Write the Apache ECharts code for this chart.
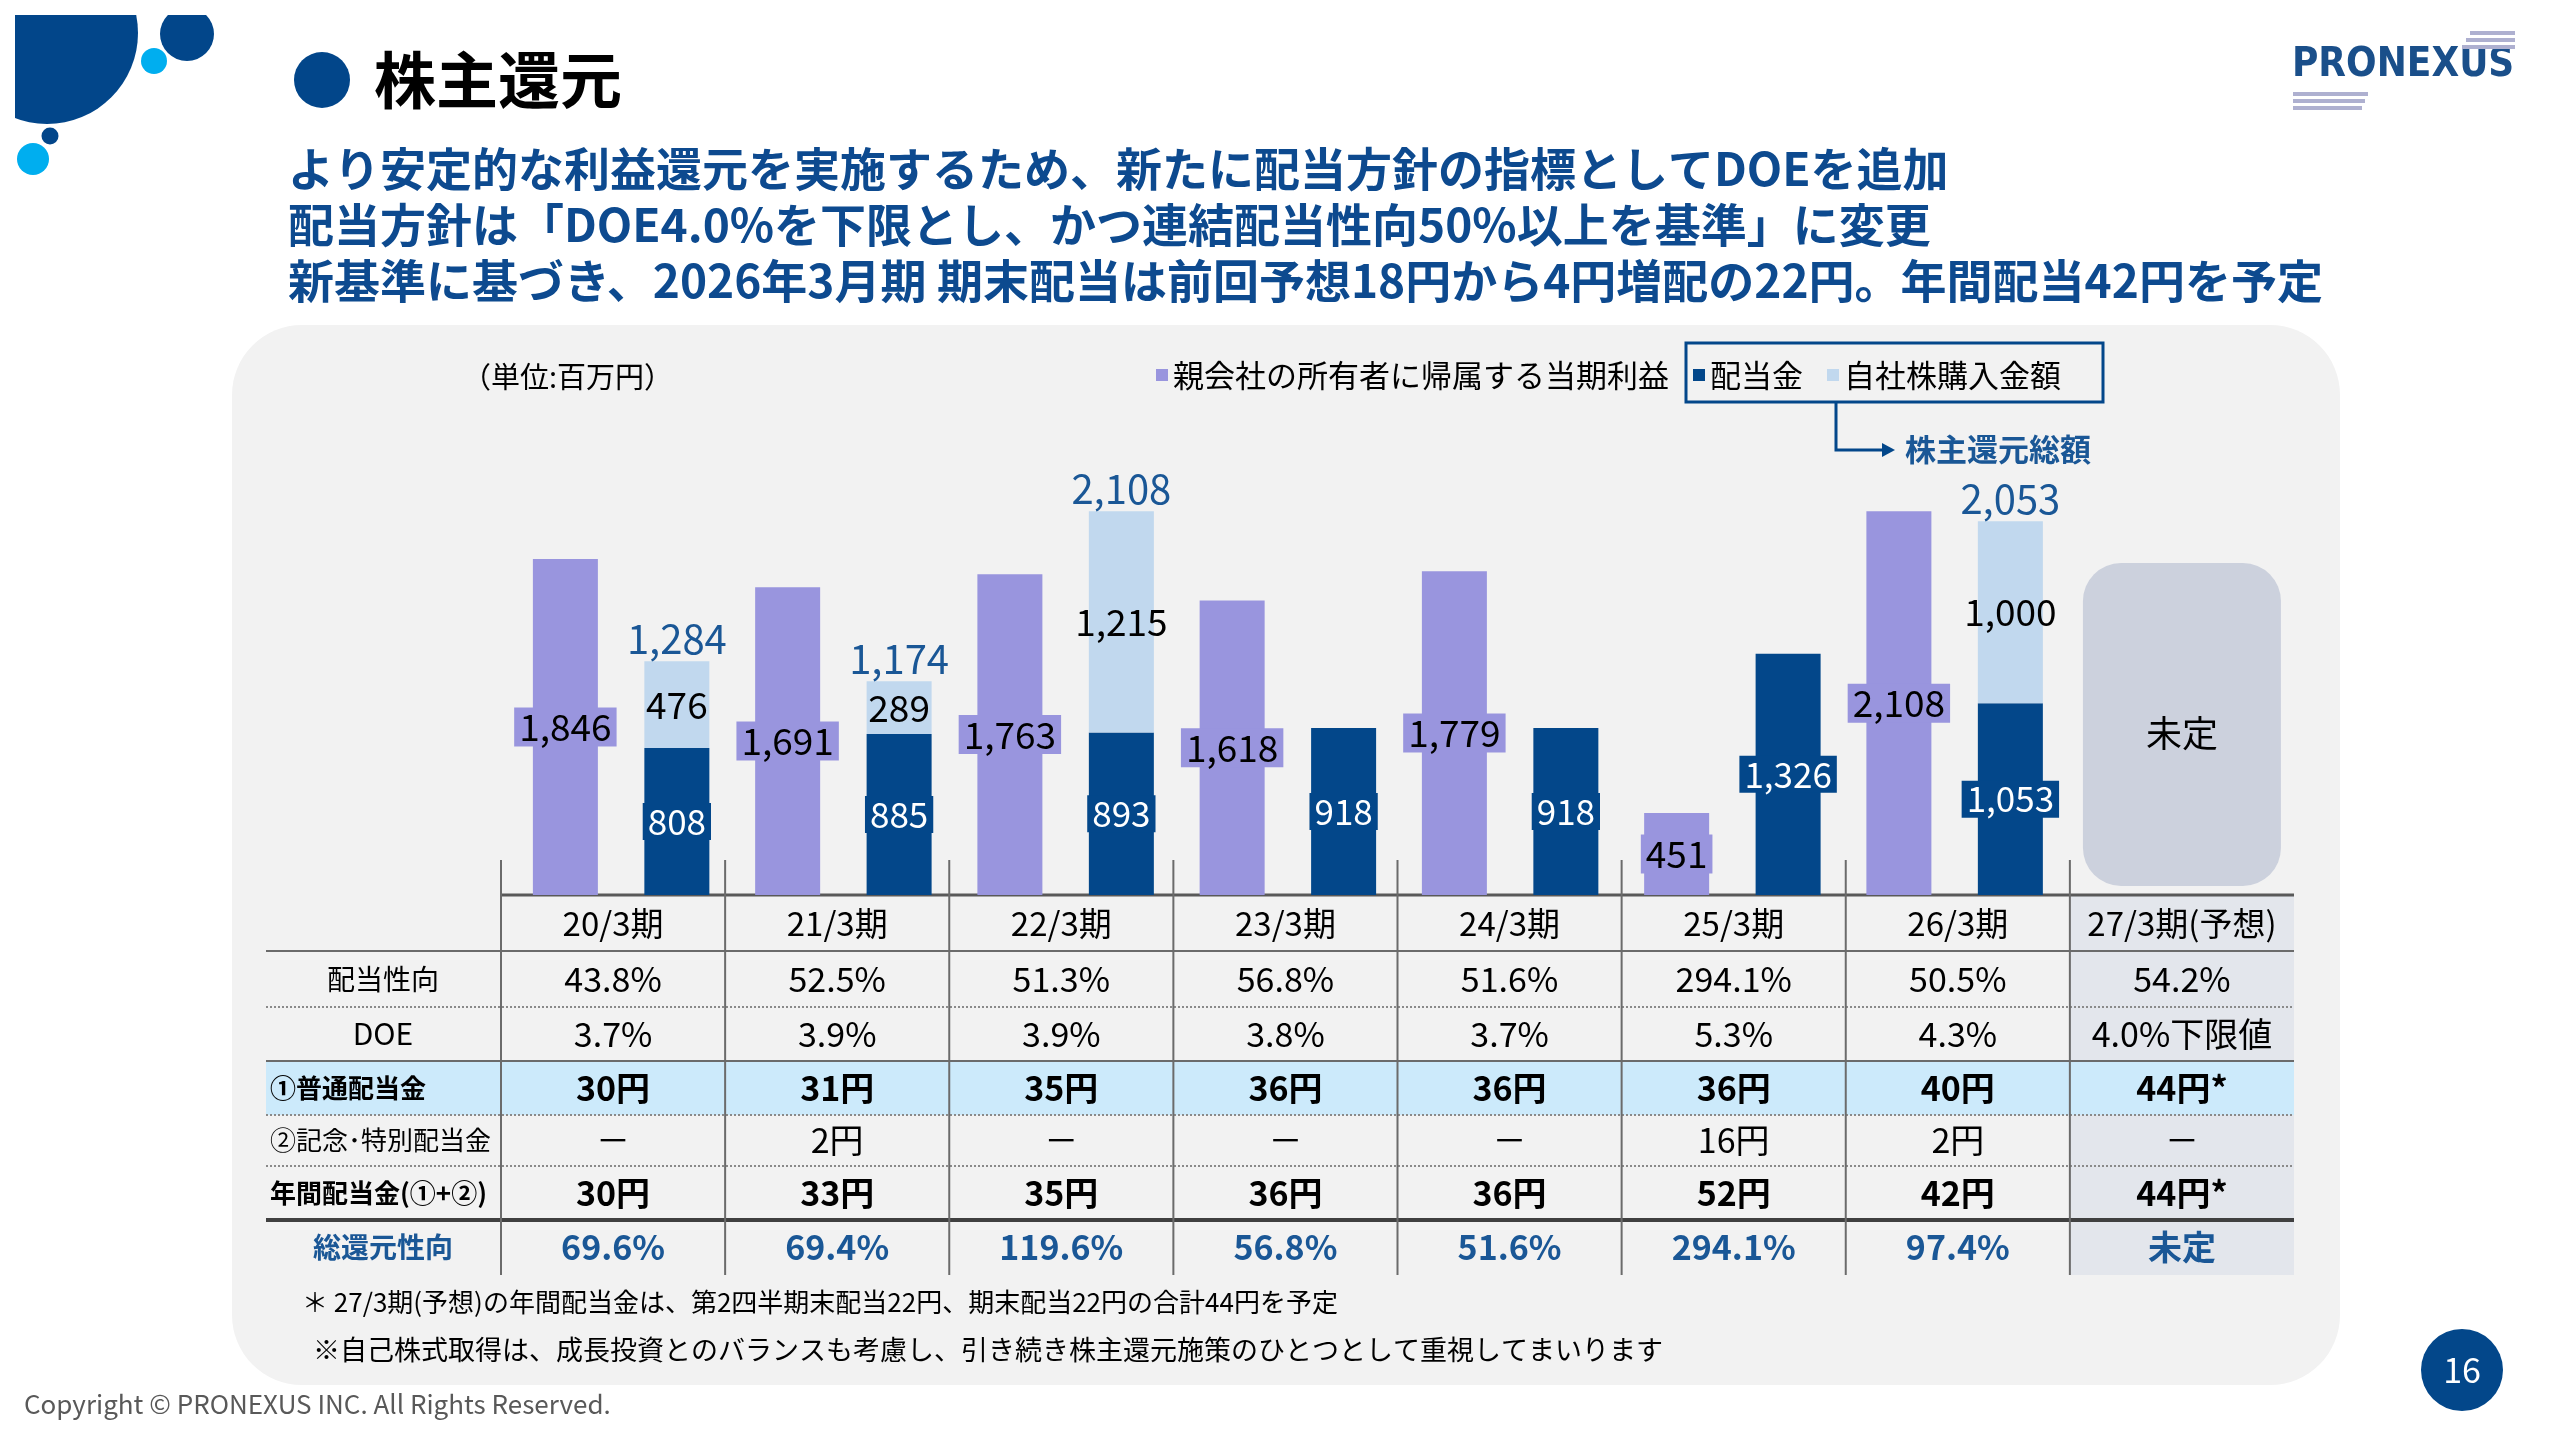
<!DOCTYPE html>
<html>
<head>
<meta charset="utf-8">
<script src="https://cdn.jsdelivr.net/npm/echarts@6/dist/echarts.min.js"></script>
<style>
  html, body { margin: 0; padding: 0; background: #fff; }
  #main { width: 2560px; height: 1439px; }
</style>
</head>
<body>
<div id="main"></div>
<script>
// 期ごとのデータ（単位：百万円）
const categories = ['20/3期', '21/3期', '22/3期', '23/3期', '24/3期', '25/3期', '26/3期', '27/3期(予想)']
const netIncome = [1846, 1691, 1763, 1618, 1779, 451, 2108, null]
const dividends = [808, 885, 893, 918, 918, 1326, 1053, null]
const buybacks = [476, 289, 1215, null, null, null, 1000, null]

// 表の行
const payoutRatio = ['43.8%', '52.5%', '51.3%', '56.8%', '51.6%', '294.1%', '50.5%', '54.2%']
const doe = ['3.7%', '3.9%', '3.9%', '3.8%', '3.7%', '5.3%', '4.3%', '4.0%下限値']
const ordinaryDiv = ['30円', '31円', '35円', '36円', '36円', '36円', '40円', '44円*']
const specialDiv = ['－', '2円', '－', '－', '－', '16円', '2円', '－']
const annualDiv = ['30円', '33円', '35円', '36円', '36円', '52円', '42円', '44円*']
const totalReturnRatio = ['69.6%', '69.4%', '119.6%', '56.8%', '51.6%', '294.1%', '97.4%', '未定']

const FONT = '"Noto Sans CJK JP", "Noto Sans", sans-serif'
const PURPLE = '#9995de'
const NAVY = '#03478a'
const LIGHT = '#c1d8ee'
const BLUE_TXT = '#1a5796'

const fmt = v => Number(v).toLocaleString('en-US')

const chart = echarts.init(document.getElementById('main'))

chart.setOption({
    animation: false,
    textStyle: { fontFamily: FONT },
    legend: {
        data: ['親会社の所有者に帰属する当期利益', '配当金', '自社株購入金額'],
        left: 1156, top: 355,
        icon: 'rect', itemWidth: 12, itemHeight: 12, itemGap: 24, padding: 0,
        selectedMode: false,
        textStyle: { fontSize: 31, color: '#000', fontFamily: FONT, lineHeight: 40 }
    },
    grid: [
        { left: 510, right: 272, top: 440, bottom: 544 },
        { left: 501, right: 266, top: 895, bottom: 164 }
    ],
    xAxis: [
        { type: 'category', data: categories, gridIndex: 0, show: false },
        { type: 'category', data: categories, gridIndex: 1, show: false }
    ],
    yAxis: [
        { type: 'value', min: 0, max: 2500, gridIndex: 0, show: false },
        { type: 'value', gridIndex: 1, show: false }
    ],
    series: [
        {
            name: '親会社の所有者に帰属する当期利益', type: 'bar', data: netIncome,
            barWidth: 65, barGap: '71.5%',
            itemStyle: { color: PURPLE },
            label: {
                show: true, position: 'inside', color: '#000', fontSize: 37,
                backgroundColor: PURPLE, padding: [1, 5],
                formatter: p => fmt(p.value)
            }
        },
        {
            name: '配当金', type: 'bar', stack: 'ret', data: dividends, barWidth: 65,
            itemStyle: { color: NAVY },
            label: {
                show: true, position: 'inside', color: '#fff', fontSize: 35,
                backgroundColor: NAVY, padding: [1, 5],
                formatter: p => fmt(p.value)
            }
        },
        {
            name: '自社株購入金額', type: 'bar', stack: 'ret', data: buybacks, barWidth: 65,
            itemStyle: { color: LIGHT },
            label: {
                show: true, position: 'inside', color: '#000', fontSize: 37,
                formatter: p => fmt(p.value)
            }
        },
        {
            // 株主還元総額ラベル用（高さゼロ）
            name: '総額', type: 'bar', stack: 'ret', barWidth: 65,
            data: buybacks.map(b => (b ? 0 : '-')),
            itemStyle: { color: 'transparent' },
            label: {
                show: true, position: 'top', distance: 3, color: BLUE_TXT, fontSize: 40,
                formatter: p => fmt(dividends[p.dataIndex] + buybacks[p.dataIndex])
            }
        }
    ]
})

// 表・装飾
const cx = categories.map((c, i) => chart.convertToPixel({ xAxisIndex: 1 }, i))
const half = (cx[1] - cx[0]) / 2
const tableL = 266
const tableR = cx[cx.length - 1] + half
const rowY = [895, 951, 1007, 1061, 1115, 1166, 1220, 1275]

const g = []
const txt = (x, y, s, o) => g.push({
    type: 'text', x, y,
    style: Object.assign({ text: s, fill: '#000', font: '32px ' + FONT, textAlign: 'center', textVerticalAlign: 'middle' }, o || {})
})
const line = (x1, y1, x2, y2, stroke, lw, dash) => g.push({
    type: 'line', shape: { x1, y1, x2, y2 },
    style: { stroke, lineWidth: lw, lineDash: dash || null }
})

// パネル
g.push({ type: 'rect', shape: { x: 232, y: 325, width: 2108, height: 1060, r: 70 }, style: { fill: '#f2f2f2' } })

// 左上の円
g.push({ type: 'circle', shape: { cx: 47, cy: 33, r: 91 }, style: { fill: '#02468a' } })
g.push({ type: 'circle', shape: { cx: 187, cy: 34, r: 27 }, style: { fill: '#02468a' } })
g.push({ type: 'circle', shape: { cx: 154, cy: 61, r: 13 }, style: { fill: '#00aeef' } })
g.push({ type: 'circle', shape: { cx: 50, cy: 136, r: 8.5 }, style: { fill: '#02468a' } })
g.push({ type: 'circle', shape: { cx: 33, cy: 159, r: 16 }, style: { fill: '#00aeef' } })
g.push({ type: 'rect', shape: { x: 0, y: 0, width: 260, height: 15 }, style: { fill: '#fff' } })
g.push({ type: 'rect', shape: { x: 0, y: 0, width: 15, height: 200 }, style: { fill: '#fff' } })

// タイトル
g.push({ type: 'circle', shape: { cx: 322, cy: 80, r: 28 }, style: { fill: '#02468a' } })
txt(374, 80, '株主還元', { font: 'bold 62px ' + FONT, textAlign: 'left' })

const subs = [
    'より安定的な利益還元を実施するため、新たに配当方針の指標としてDOEを追加',
    '配当方針は「DOE4.0%を下限とし、かつ連結配当性向50%以上を基準」に変更',
    '新基準に基づき、2026年3月期 期末配当は前回予想18円から4円増配の22円。年間配当42円を予定'
]
subs.forEach((s, i) => txt(288, 169 + i * 56, s, { font: 'bold 46px ' + FONT, fill: '#0d4a8f', textAlign: 'left' }))

// ロゴ
txt(2292, 66, 'PRONEXUS', { font: '600 40px "Liberation Sans Narrow", "DejaVu Sans Condensed", sans-serif', fill: '#1a4f8a', textAlign: 'left' })
;[[2470, 31], [2466, 38], [2462, 45]].forEach(([x, y]) =>
    g.push({ type: 'rect', shape: { x, y, width: 2515 - x, height: 4 }, style: { fill: '#aeb0d0' } }))
;[[92, 2368], [99, 2365], [106, 2362]].forEach(([y, x2]) =>
    g.push({ type: 'rect', shape: { x: 2293, y, width: x2 - 2293, height: 4 }, style: { fill: '#aeb0d0' } }))

// 単位
txt(462, 377, '（単位:百万円）', { font: '29px ' + FONT, textAlign: 'left' })

// 凡例の枠と矢印
g.push({ type: 'rect', shape: { x: 1686, y: 343, width: 417, height: 59 }, style: { fill: 'none', stroke: NAVY, lineWidth: 3 } })
g.push({ type: 'polyline', shape: { points: [[1836, 402], [1836, 450], [1884, 450]] }, style: { fill: 'none', stroke: NAVY, lineWidth: 3 } })
g.push({ type: 'polygon', shape: { points: [[1882, 443], [1895, 450], [1882, 457]] }, style: { fill: NAVY } })
txt(1905, 449, '株主還元総額', { font: 'bold 31px ' + FONT, fill: BLUE_TXT, textAlign: 'left' })

// 未定ボックス
const c7 = cx[cx.length - 1]
g.push({ type: 'rect', shape: { x: c7 - 99, y: 563, width: 198, height: 323, r: 38 }, style: { fill: '#ccd1dd' } })
txt(c7, 733, '未定', { font: '36px ' + FONT })

// 表の背景
g.push({ type: 'rect', shape: { x: c7 - half, y: 895, width: 2 * half, height: 380 }, style: { fill: '#e3e6ec' } })
g.push({ type: 'rect', shape: { x: tableL, y: 1061, width: tableR - tableL, height: 54 }, style: { fill: '#cceafb' } })

// 罫線
line(cx[0] - half, 895, tableR, 895, '#595959', 3)
line(tableL, 951, tableR, 951, '#6b6b6b', 2)
line(tableL, 1007, tableR, 1007, '#8a8a8a', 2, [2, 2])
line(tableL, 1061, tableR, 1061, '#6b6b6b', 2)
line(tableL, 1115, tableR, 1115, '#8a8a8a', 2, [2, 2])
line(tableL, 1166, tableR, 1166, '#8a8a8a', 2, [2, 2])
line(tableL, 1220, tableR, 1220, '#404040', 4)
cx.forEach(x => line(x - half, 860, x - half, 1275, '#6b6b6b', 2))

// 表のテキスト
const mid = i => (rowY[i] + rowY[i + 1]) / 2
const labelX = 383
txt(labelX, mid(1), '配当性向', { font: '28px ' + FONT })
txt(labelX, mid(2), 'DOE', { font: '30px ' + FONT })
txt(270, mid(3), '①普通配当金', { font: 'bold 26px ' + FONT, textAlign: 'left' })
txt(270, mid(4), '②記念･特別配当金', { font: '26px ' + FONT, textAlign: 'left' })
txt(270, mid(5), '年間配当金(①+②)', { font: 'bold 26px ' + FONT, textAlign: 'left' })
txt(labelX, mid(6), '総還元性向', { font: 'bold 28px ' + FONT, fill: BLUE_TXT })

cx.forEach((x, i) => {
    txt(x, mid(0), categories[i], { font: '33px ' + FONT })
    txt(x, mid(1), payoutRatio[i], { font: '34px ' + FONT })
    txt(x, mid(2), doe[i], { font: '34px ' + FONT })
    txt(x, mid(3), ordinaryDiv[i], { font: 'bold 34px ' + FONT })
    txt(x, mid(4), specialDiv[i], { font: '34px ' + FONT })
    txt(x, mid(5), annualDiv[i], { font: 'bold 34px ' + FONT })
    txt(x, mid(6), totalReturnRatio[i], { font: 'bold 34px ' + FONT, fill: BLUE_TXT })
})

// 注記
txt(302, 1302, '＊ 27/3期(予想)の年間配当金は、第2四半期末配当22円、期末配当22円の合計44円を予定', { font: '26px ' + FONT, textAlign: 'left' })
txt(313, 1350, '※自己株式取得は、成長投資とのバランスも考慮し、引き続き株主還元施策のひとつとして重視してまいります', { font: '27px ' + FONT, textAlign: 'left' })
txt(24, 1404, 'Copyright © PRONEXUS INC. All Rights Reserved.', { font: '26px ' + FONT, fill: '#595959', textAlign: 'left' })

// ページ番号
g.push({ type: 'circle', shape: { cx: 2462, cy: 1370, r: 41 }, style: { fill: NAVY } })
txt(2462, 1370, '16', { font: '34px ' + FONT, fill: '#fff' })

chart.setOption({ graphic: { elements: g.map(e => Object.assign({ silent: true, z: -10 }, e)) } })
</script>
</body>
</html>
